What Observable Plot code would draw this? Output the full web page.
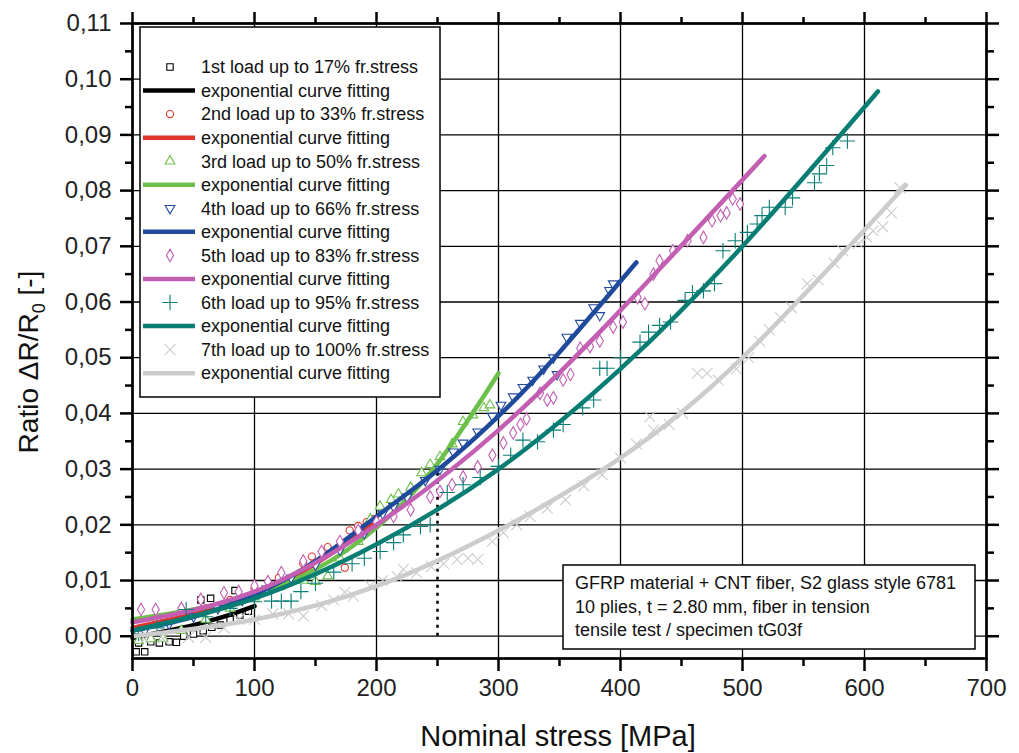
<!DOCTYPE html>
<html>
<head>
<meta charset="utf-8">
<script src="https://cdn.jsdelivr.net/npm/d3@7"></script>
<script src="https://cdn.jsdelivr.net/npm/@observablehq/plot@0.6"></script>
<style>
  html, body { margin: 0; padding: 0; background: white; }
  #chart { width: 1019px; height: 753px; }
</style>
</head>
<body>
<div id="chart"></div>
<script>
// ---------- Data ----------
const seriesLabels = [
  "1st load up to 17% fr.stress",
  "2nd load up to 33% fr.stress",
  "3rd load up to 50% fr.stress",
  "4th load up to 66% fr.stress",
  "5th load up to 83% fr.stress",
  "6th load up to 95% fr.stress",
  "7th load up to 100% fr.stress"
];
const fitLabel = "exponential curve fitting";
const seriesColors = ["#000000", "#e0352b", "#6cbf4a", "#1f4a9c", "#c25fb3", "#087d74", "#cccccc"];

const xMajor = [0, 100, 200, 300, 400, 500, 600, 700];
const xMinor = [50, 150, 250, 350, 450, 550, 650];
const yMajor = [0, 0.01, 0.02, 0.03, 0.04, 0.05, 0.06, 0.07, 0.08, 0.09, 0.10, 0.11];
const yMinor = [0.005, 0.015, 0.025, 0.035, 0.045, 0.055, 0.065, 0.075, 0.085, 0.095, 0.105];

const xTitle = "Nominal stress [MPa]";
const noteLines = [
  "GFRP material + CNT fiber, S2 glass style 6781",
  "10 plies, t = 2.80 mm, fiber in tension",
  "tensile test / specimen tG03f"
];
const markerLine = [{stress: 250, from: 0, to: 0.0324}];

// measured points [stress MPa, ratio]
const load1 = [[3,-0.0028],[10,-0.0028],[5,-0.0012],[15,-0.0010],[22,-0.0012],[30,-0.0010],[36,-0.0011],
  [42,0.0000],[50,0.0004],[56,0.0065],[58,0.0010],[64,0.0068],[65,0.0016],[72,0.0020],[80,0.0030],
  [84,0.0082],[88,0.0038],[95,0.0045]];
const load2 = [[20,0.0030],[40,0.0035],[60,0.0050],[80,0.0065],[100,0.0085],[120,0.0105],[140,0.0130],
  [147,0.0143],[160,0.0160],[174,0.0123],[178,0.0190],[185,0.0198],[192,0.0205],[197,0.0210]];
const load3 = [[5,-0.0008],[15,-0.0005],[25,-0.0004],[40,0.0010],[60,0.0030],[80,0.0050],[100,0.0070],
  [120,0.0090],[140,0.0100],[150,0.0098],[160,0.0108],[170,0.0140],[185,0.0170],[195,0.0210],[203,0.0233],
  [212,0.0245],[218,0.0255],[228,0.0267],[237,0.0293],[244,0.0308],[252,0.0322],[262,0.0345],[271,0.0385],
  [279,0.0397],[288,0.0410],[293,0.0415]];
const load4 = [[10,0.0010],[30,0.0022],[50,0.0035],[70,0.0050],[90,0.0065],[110,0.0085],[130,0.0105],
  [150,0.0128],[170,0.0155],[190,0.0185],[205,0.0220],[214,0.0233],[225,0.0250],[240,0.0280],[252,0.0300],
  [263,0.0331],[271,0.0347],[283,0.0367],[295,0.0395],[302,0.0415],[312,0.0430],[320,0.0447],[328,0.0460],
  [337,0.0480],[345,0.0500],[348,0.0470],[356,0.0537],[367,0.0562],[378,0.0590],[383,0.0576],[391,0.0621],
  [394,0.0633]];
const load5 = [[7,0.0048],[19,0.0048],[40,0.0050],[56,0.0066],[75,0.0078],[87,0.0080],[100,0.0090],
  [111,0.0098],[122,0.0114],[140,0.0135],[155,0.0152],[170,0.0170],[185,0.0190],[200,0.0205],[214,0.0215],
  [228,0.0227],[244,0.0250],[252,0.0260],[262,0.0272],[271,0.0286],[283,0.0304],[295,0.0325],[304,0.0347],
  [312,0.0365],[318,0.0380],[323,0.0390],[334,0.0436],[340,0.0424],[345,0.0428],[353,0.0460],[359,0.0470],
  [367,0.0517],[375,0.0520],[383,0.0530],[394,0.0555],[402,0.0564],[414,0.0608],[420,0.0597],[427,0.0650],
  [432,0.0674],[443,0.0692],[455,0.0710],[468,0.0716],[475,0.0746],[482,0.0755],[487,0.0760],[492,0.0785],
  [498,0.0776]];
const load6 = [[5,0.0005],[20,0.0015],[44,0.0048],[60,0.0035],[80,0.0050],[100,0.0062],[114,0.0063],
  [122,0.0063],[130,0.0063],[138,0.0080],[150,0.0095],[165,0.0115],[180,0.0130],[190,0.0140],[203,0.0152],
  [214,0.0168],[222,0.0182],[236,0.0197],[244,0.0200],[258,0.0258],[271,0.0272],[285,0.0285],[300,0.0305],
  [310,0.0325],[320,0.0352],[332,0.0349],[345,0.0370],[353,0.0380],[369,0.0410],[378,0.0424],[383,0.0481],
  [389,0.0481],[400,0.0500],[416,0.0528],[423,0.0546],[432,0.0558],[441,0.0564],[453,0.0603],[459,0.0617],
  [468,0.0620],[477,0.0633],[484,0.0692],[494,0.0710],[504,0.0725],[512,0.0740],[516,0.0755],[522,0.0770],
  [535,0.0770],[541,0.0787],[559,0.0814],[563,0.0830],[569,0.0845],[574,0.0877],[586,0.0889]];
const load7 = [[10,-0.0005],[25,-0.0004],[46,-0.0002],[60,-0.0002],[75,0.0015],[87,0.0030],[100,0.0030],
  [115,0.0040],[128,0.0040],[140,0.0036],[155,0.0055],[165,0.0065],[174,0.0079],[181,0.0072],[195,0.0090],
  [205,0.0100],[217,0.0107],[222,0.0120],[233,0.0114],[245,0.0125],[255,0.0130],[266,0.0138],[275,0.0140],
  [283,0.0138],[295,0.0170],[304,0.0186],[315,0.0200],[326,0.0215],[340,0.0230],[355,0.0245],[370,0.0270],
  [385,0.0290],[400,0.0320],[413,0.0345],[424,0.0394],[427,0.0370],[440,0.0380],[451,0.0400],[463,0.0472],
  [471,0.0472],[480,0.0460],[495,0.0480],[505,0.0500],[514,0.0530],[522,0.0550],[531,0.0572],[540,0.0590],
  [553,0.0633],[562,0.0640],[575,0.0670],[582,0.0692],[595,0.0705],[602,0.0716],[607,0.0728],[615,0.0735],
  [622,0.0760],[629,0.0805]];

// exponential fit curves, nodes
const fit1 = [[0,-0.0003],[25,0.0008],[50,0.0020],[75,0.0035],[100,0.0054]];
const fit2 = [[0,0.0015],[50,0.0040],[100,0.0075],[150,0.0130],[200,0.0206]];
const fit3 = [[0,0.0030],[50,0.0048],[100,0.0075],[150,0.0120],[200,0.0195],[250,0.0310],[300,0.0472]];
const fit4 = [[0,0.0010],[50,0.0035],[100,0.0075],[150,0.0135],[200,0.0215],[250,0.0298],[300,0.0395],[350,0.0510],[413,0.0671]];
const fit5 = [[0,0.0025],[100,0.0080],[200,0.0200],[300,0.0370],[400,0.0585],[518,0.0862]];
const fit6 = [[0,0.0010],[100,0.0068],[200,0.0165],[300,0.0300],[400,0.0480],[500,0.0700],[611,0.0978]];
const fit7 = [[0,0.0000],[100,0.0030],[200,0.0090],[300,0.0190],[400,0.0320],[500,0.0500],[634,0.0810]];

// ---------- Build ----------
const triangleDown = {
  draw(context, size) {
    const y = -Math.sqrt(size / (Math.sqrt(3) * 3));
    context.moveTo(0, -y * 2);
    context.lineTo(-Math.sqrt(3) * y, y);
    context.lineTo(Math.sqrt(3) * y, y);
    context.closePath();
  }
};
const symbols = ["square", "circle", "triangle", triangleDown, "diamond", "plus", "times"];
const radii = [3.6, 3.6, 3.6, 3.6, 3.8, 5, 5];
const pointSets = [load1, load2, load3, load4, load5, load6, load7];
const fitSets = [fit1, fit2, fit3, fit4, fit5, fit6, fit7];

const font = "'Liberation Sans', Arial, Helvetica, sans-serif";
const W = 1019, H = 753;
const mL = 132, mR = 33, mT = 23, mB = 95;

const marks = [
  Plot.gridX(xMajor, {stroke: "black", strokeOpacity: 1, strokeWidth: 1.3}),
  Plot.gridY(yMajor, {stroke: "black", strokeOpacity: 1, strokeWidth: 1.3}),
  Plot.ruleX(markerLine, {x: "stress", y1: "from", y2: "to", stroke: "black", strokeWidth: 2.6, strokeDasharray: "3,5"})
];
pointSets.forEach((pts, i) => {
  marks.push(Plot.dot(pts, {
    x: d => d[0], y: d => d[1], symbol: symbols[i], r: radii[i],
    stroke: seriesColors[i], fill: (i >= 5 ? "none" : "white"), strokeWidth: 1.1
  }));
  marks.push(Plot.line(fitSets[i], {
    x: d => d[0], y: d => d[1], stroke: seriesColors[i], strokeWidth: 4.5,
    curve: "natural", strokeLinecap: "round"
  }));
});
const yFmt = d => d.toFixed(2).replace(".", ",");
const axisCommon = {stroke: "black", strokeWidth: 2.5, label: null, fontSize: 24, color: "#222"};
marks.push(
  Plot.frame({stroke: "black", strokeWidth: 2.7}),
  Plot.axisX(xMajor, {...axisCommon, anchor: "bottom", tickSize: 13, tickPadding: 7, tickFormat: d => String(d)}),
  Plot.axisX(xMinor, {...axisCommon, anchor: "bottom", tickSize: 8, tickFormat: () => ""}),
  Plot.axisX(xMajor, {...axisCommon, anchor: "top", tickSize: 12, tickFormat: () => ""}),
  Plot.axisX(xMinor, {...axisCommon, anchor: "top", tickSize: 7, tickFormat: () => ""}),
  Plot.axisY(yMajor, {...axisCommon, anchor: "left", tickSize: 12, tickPadding: 9, tickFormat: yFmt}),
  Plot.axisY(yMinor, {...axisCommon, anchor: "left", tickSize: 7, tickFormat: () => ""}),
  Plot.axisY(yMajor, {...axisCommon, anchor: "right", tickSize: 12, tickFormat: () => ""}),
  Plot.axisY(yMinor, {...axisCommon, anchor: "right", tickSize: 7, tickFormat: () => ""})
);

const svg = Plot.plot({
  width: W, height: H,
  marginLeft: mL, marginRight: mR, marginTop: mT, marginBottom: mB,
  x: {domain: [0, 700], label: null},
  y: {domain: [-0.004, 0.11], label: null},
  style: {fontFamily: font, background: "white", color: "#222", overflow: "visible"},
  marks
});

// ---------- Decorations: titles, legend, note ----------
const s = d3.select(svg);
const deco = s.append("g").attr("font-family", font).attr("text-anchor", "start");

// x title
deco.append("text").attr("x", 558).attr("y", 746).attr("text-anchor", "middle")
  .attr("font-size", 29).attr("fill", "#111").text(xTitle);

// y title with subscript
const yt = deco.append("text").attr("transform", "translate(38,362) rotate(-90)")
  .attr("text-anchor", "middle").attr("font-size", 28).attr("fill", "#111");
yt.append("tspan").text("Ratio \u0394R/R");
yt.append("tspan").attr("dy", 7).attr("font-size", 18).text("0");
yt.append("tspan").attr("dy", -7).text(" [-]");

// legend
const d3type = {square: d3.symbolSquare, circle: d3.symbolCircle, triangle: d3.symbolTriangle,
  diamond: d3.symbolDiamond, plus: d3.symbolPlus, times: d3.symbolTimes};
const lg = deco.append("g");
lg.append("rect").attr("x", 140).attr("y", 27).attr("width", 300).attr("height", 370)
  .attr("fill", "white").attr("stroke", "black").attr("stroke-width", 1.5);
const rowY = i => 67 + i * 23.55;
seriesLabels.forEach((lab, i) => {
  const y1 = rowY(2 * i), y2 = rowY(2 * i + 1);
  const t = typeof symbols[i] === "string" ? d3type[symbols[i]] : symbols[i];
  lg.append("path").attr("transform", `translate(170,${y1})`)
    .attr("d", d3.symbol().type(t).size(Math.PI * radii[i] * radii[i])())
    .attr("fill", i >= 5 ? "none" : "white").attr("stroke", seriesColors[i]).attr("stroke-width", 1.1);
  lg.append("text").attr("x", 201).attr("y", y1).attr("dy", "0.35em").attr("font-size", 18)
    .attr("text-anchor", "start").attr("fill", "#111").text(lab);
  lg.append("line").attr("x1", 143).attr("x2", 195).attr("y1", y2).attr("y2", y2)
    .attr("stroke", seriesColors[i]).attr("stroke-width", 4.5);
  lg.append("text").attr("x", 201).attr("y", y2).attr("dy", "0.35em").attr("font-size", 18)
    .attr("text-anchor", "start").attr("fill", "#111").text(fitLabel);
});

// note box
const nb = deco.append("g");
nb.append("rect").attr("x", 563).attr("y", 565).attr("width", 412).attr("height", 84)
  .attr("fill", "white").attr("stroke", "black").attr("stroke-width", 1.5);
noteLines.forEach((t, i) => {
  nb.append("text").attr("x", 575).attr("y", 583 + i * 23.5).attr("dy", "0.35em")
    .attr("text-anchor", "start").attr("font-size", 18).attr("fill", "#111").text(t);
});

document.getElementById("chart").appendChild(svg);
</script>
</body>
</html>
